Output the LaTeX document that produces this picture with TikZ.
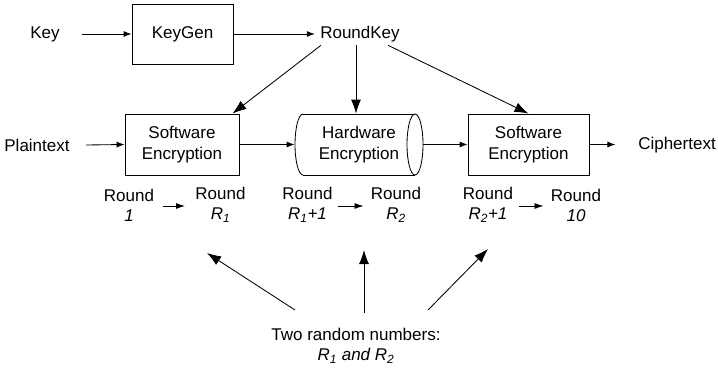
\documentclass[tikz,border=0pt]{standalone}
\usepackage{fontspec}
\setmainfont{Liberation Sans}
\usetikzlibrary{arrows.meta}
\begin{document}
\begin{tikzpicture}[x=1pt,y=1pt,
  font=\fontsize{17}{20}\selectfont,
  line width=0.85pt,
  box/.style={draw,minimum width=114pt,minimum height=61pt,inner sep=0pt,align=center,font=\fontsize{17}{21}\selectfont},
  lbl/.style={inner sep=2pt,align=center},
  sarr/.style={-{Latex[length=8pt,width=6pt]}},
  barr/.style={-{Latex[length=14pt,width=10pt]}},
  rarr/.style={-{Latex[length=9pt,width=6pt]}}]
\useasboundingbox (0,0) rectangle (718,-372);
% top row
\node[lbl] (key) at (45,-34) {Key};
\node[box,minimum width=101pt,minimum height=60pt] (kg) at (182.5,-34) {KeyGen};
\node[lbl] (rk) at (360,-34) {RoundKey};
\draw[sarr] ([xshift=20pt]key.east) -- (kg.west);
\draw[sarr] (kg.east) -- ([xshift=-3pt]rk.west);
% middle row
\node[lbl] (pt) at (37,-145) {Plaintext};
\node[box] (sw1) at (182,-144.5) {Software\\Encryption};
\node[inner sep=0pt,minimum width=128pt,minimum height=61pt,align=center,font=\fontsize{17}{21}\selectfont] (hw) at (359,-144.5) {Hardware\\Encryption};
\draw (303,-114) -- (415,-114);
\draw (303,-175) -- (415,-175);
\draw (303,-114) arc[start angle=90,end angle=270,x radius=8,y radius=30.5];
\draw (415,-144.5) ellipse[x radius=8,y radius=30.5];
\node[box,minimum width=121pt] (sw2) at (528.5,-144.5) {Software\\Encryption};
\node[lbl] (ct) at (677,-145) {Ciphertext};
\draw[sarr] ([xshift=14pt]pt.east) -- (sw1.west);
\draw[sarr] (sw1.east) -- (hw.west);
\draw[sarr] (hw.east) -- (sw2.west);
\draw[sarr] (sw2.east) -- ([xshift=26pt]sw2.east);
% RoundKey to encryptions
\draw[barr] ([xshift=3pt,yshift=-1pt]rk.south west) -- ([xshift=-7pt]sw1.north east);
\draw[barr] ([xshift=-4pt,yshift=-1pt]rk.south) -- ([xshift=-3pt]hw.north);
\draw[barr] ([xshift=-14pt,yshift=-1pt]rk.south east) -- (sw2.north);
% round labels
\node[lbl] (r1) at (129,-205) {Round\\\textit{1}};
\node[lbl] (r2) at (220.5,-205) {Round\\\textit{R\textsubscript{1}}};
\node[lbl] (r3) at (307.5,-205) {Round\\\textit{R\textsubscript{1}+1}};
\node[lbl] (r4) at (396,-205) {Round\\\textit{R\textsubscript{2}}};
\node[lbl] (r5) at (488,-205) {Round\\\textit{R\textsubscript{2}+1}};
\node[lbl] (r6) at (576,-205) {Round\\\textit{10}};
\draw[rarr] ([xshift=7pt,yshift=-1pt]r1.east) -- ([xshift=-8pt,yshift=-1pt]r2.west);
\draw[rarr] ([xshift=3pt,yshift=-1pt]r3.east) -- ([xshift=-5pt,yshift=-1pt]r4.west);
\draw[rarr] ([xshift=4pt,yshift=-1pt]r5.east) -- ([xshift=-5pt,yshift=-1pt]r6.west);
% bottom
\node[lbl] (two) at (356,-346) {Two random numbers:\\\textit{R\textsubscript{1} and R\textsubscript{2}}};
\coordinate (b1) at (295,-310);
\coordinate (e1) at (207,-253);
\coordinate (b2) at (364,-313);
\coordinate (e2) at (364,-250);
\coordinate (b3) at (428,-310);
\coordinate (e3) at (488,-249);
\draw[barr] (b1) -- (e1);
\draw[barr] (b2) -- (e2);
\draw[barr] (b3) -- (e3);
\end{tikzpicture}
\end{document}
